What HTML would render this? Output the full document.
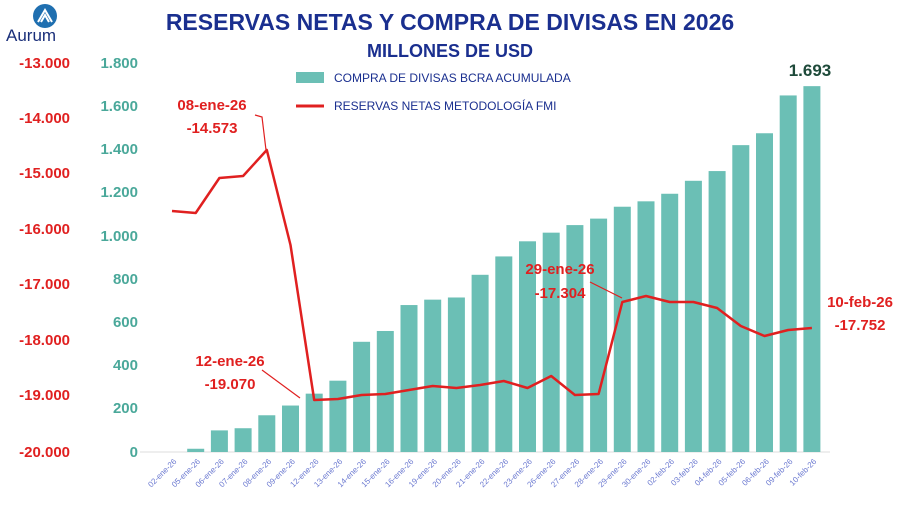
<!DOCTYPE html><html><head><meta charset="utf-8"><style>body{margin:0;background:#fff}svg{display:block;font-family:"Liberation Sans",sans-serif}</style></head><body>
<svg width="900" height="505" viewBox="0 0 900 505">
<rect width="900" height="505" fill="#fff"/>
<circle cx="45" cy="16" r="12" fill="#1f6fb0"/><path d="M38 22 L45 10 L52 22 M41 22 L45 15 L49 22" stroke="#fff" stroke-width="2" fill="none"/>
<text x="6" y="41" font-size="17" fill="#1a2f7a">Aurum</text>
<text x="450" y="30" font-size="23" font-weight="bold" fill="#1a2f8f" text-anchor="middle">RESERVAS NETAS Y COMPRA DE DIVISAS EN 2026</text>
<text x="450" y="57" font-size="18" font-weight="bold" fill="#1a2f8f" text-anchor="middle">MILLONES DE USD</text>
<g id="grid"></g>
<line x1="140" y1="452" x2="830" y2="452" stroke="#ddd"/>
<g font-size="15" font-weight="bold" fill="#e02020" text-anchor="end">
<text x="70" y="68">-13.000</text><text x="70" y="123">-14.000</text><text x="70" y="178">-15.000</text><text x="70" y="234">-16.000</text><text x="70" y="289">-17.000</text><text x="70" y="345">-18.000</text><text x="70" y="400">-19.000</text><text x="70" y="457">-20.000</text></g>
<g font-size="15" font-weight="bold" fill="#4aa89a" text-anchor="end">
<text x="138" y="68">1.800</text><text x="138" y="111">1.600</text><text x="138" y="154">1.400</text><text x="138" y="197">1.200</text><text x="138" y="241">1.000</text><text x="138" y="284">800</text><text x="138" y="327">600</text><text x="138" y="370">400</text><text x="138" y="413">200</text><text x="138" y="457">0</text></g>
<rect x="296" y="72" width="28" height="11" fill="#6bbfb5"/><text x="334" y="82" font-size="12" fill="#1a2f8f">COMPRA DE DIVISAS BCRA ACUMULADA</text>
<line x1="296" y1="106" x2="324" y2="106" stroke="#e02020" stroke-width="3"/><text x="334" y="110" font-size="12" fill="#1a2f8f">RESERVAS NETAS METODOLOGÍA FMI</text>
<g id="bars" fill="#6bbfb5"></g>
<g id="labs" font-size="8" fill="#6a78d0"></g>
<polyline id="ln" fill="none" stroke="#e02020" stroke-width="2.5" stroke-linejoin="round"/>
<g fill="#e02020" font-size="15" font-weight="bold" text-anchor="middle">
<text x="212" y="110">08-ene-26</text><text x="212" y="133">-14.573</text>
<text x="230" y="366">12-ene-26</text><text x="230" y="389">-19.070</text>
<text x="560" y="274">29-ene-26</text><text x="560" y="298">-17.304</text>
<text x="860" y="307">10-feb-26</text><text x="860" y="330">-17.752</text></g>
<polyline points="255,115 262,117 266,150" fill="none" stroke="#e02020" stroke-width="1.2"/>
<polyline points="262,370 300,398" fill="none" stroke="#e02020" stroke-width="1.2"/>
<polyline points="590,282 622,298" fill="none" stroke="#e02020" stroke-width="1.2"/>
<text x="810" y="76" font-size="17" font-weight="bold" fill="#1e4a3a" text-anchor="middle">1.693</text>
</svg>
<script>
var ns="http://www.w3.org/2000/svg";
var L=["02-ene-26","05-ene-26","06-ene-26","07-ene-26","08-ene-26","09-ene-26","12-ene-26","13-ene-26","14-ene-26","15-ene-26","16-ene-26","19-ene-26","20-ene-26","21-ene-26","22-ene-26","23-ene-26","26-ene-26","27-ene-26","28-ene-26","29-ene-26","30-ene-26","02-feb-26","03-feb-26","04-feb-26","05-feb-26","06-feb-26","09-feb-26","10-feb-26"];
var B=[0,15,100,110,170,215,270,330,510,560,680,705,715,820,905,975,1015,1050,1080,1135,1160,1195,1255,1300,1420,1475,1650,1693];
var Y=[211,213,178,176,150,245,400,399,395,394,390,386,388,385,381,388,376,395,394,302,296,302,302,308,326,336,330,328];
var bg=document.getElementById("bars"),lg=document.getElementById("labs"),pts=[];
for(var i=0;i<28;i++){var x=172+i*23.7;
if(B[i]>0){var r=document.createElementNS(ns,"rect");var h=B[i]*0.2161;r.setAttribute("x",x-8.5);r.setAttribute("y",452-h);r.setAttribute("width",17);r.setAttribute("height",h);bg.appendChild(r);}
var t=document.createElementNS(ns,"text");t.setAttribute("transform","translate("+(x+5)+",462) rotate(-45)");t.setAttribute("text-anchor","end");t.textContent=L[i];lg.appendChild(t);
pts.push(x+","+Y[i]);}
document.getElementById("ln").setAttribute("points",pts.join(" "));
</script>
</body></html>
